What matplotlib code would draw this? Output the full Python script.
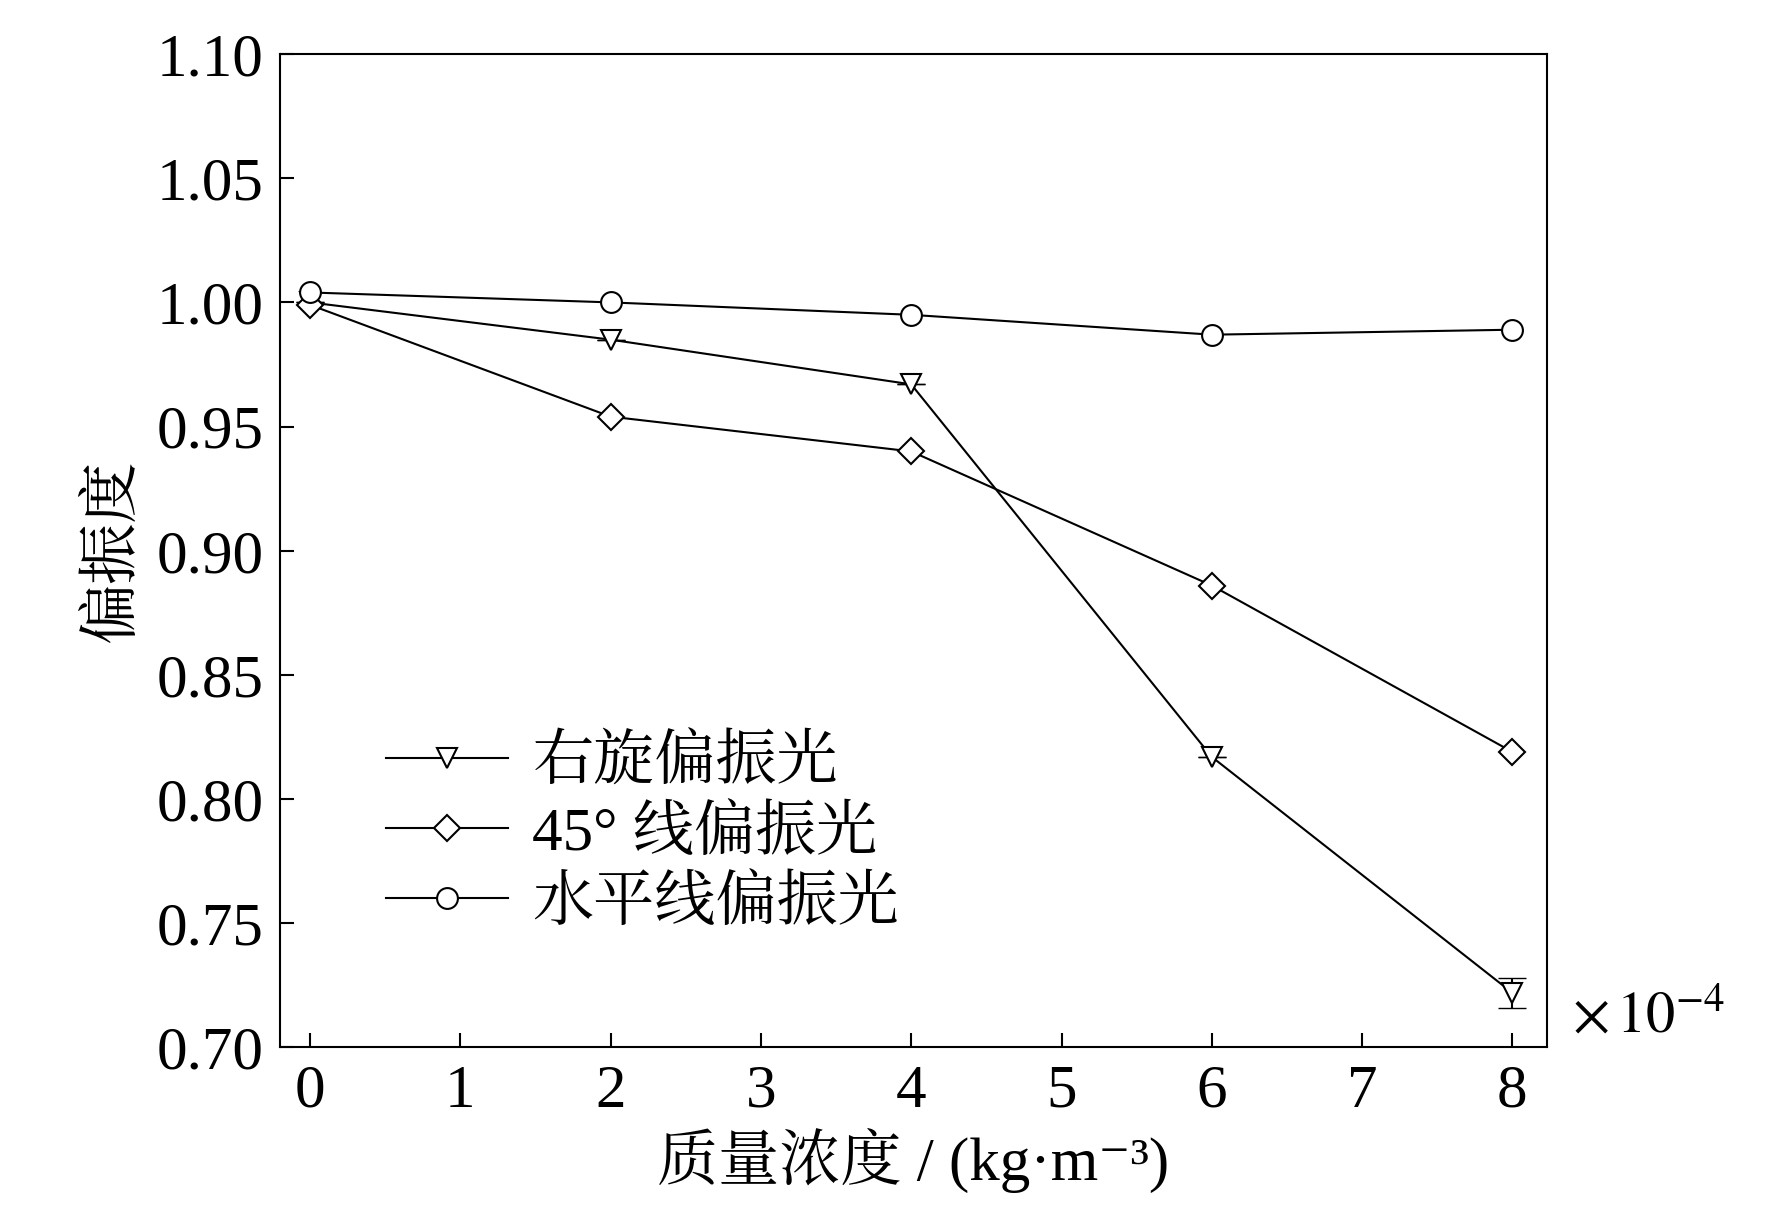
import matplotlib
matplotlib.use("Agg")
import matplotlib.pyplot as plt

x = [0, 2, 4, 6, 8]
right_circ = [1.000, 0.985, 0.967, 0.817, 0.722]
right_err = [0, 0, 0, 0, 0.006]
diag45 = [0.999, 0.954, 0.940, 0.886, 0.819]
horiz = [1.004, 1.000, 0.995, 0.987, 0.989]
labels = ["右旋偏振光", "45° 线偏振光", "水平线偏振光"]
yticks = [0.70, 0.75, 0.80, 0.85, 0.90, 0.95, 1.00, 1.05, 1.10]

fam = ["Liberation Serif", "Noto Serif CJK SC", "Noto Sans CJK SC", "DejaVu Sans"]
plt.rcParams["font.family"] = fam
plt.rcParams["mathtext.fontset"] = "stix"

fig = plt.figure(figsize=(17.72, 12.28), dpi=100)
ax = fig.add_axes([0.158, 0.147, 0.715, 0.809])
kw = dict(color="black", lw=1.5, mfc="white", mec="black", mew=1.5, ms=15)
ax.errorbar(x, right_circ, yerr=right_err, fmt="none", ecolor="black", capsize=10, elinewidth=1.5)
ax.plot(x, right_circ, marker="v", label=labels[0], **kw)
ax.plot(x, diag45, marker="D", label=labels[1], **{**kw, "ms": 13})
ax.plot(x, horiz, marker="o", label=labels[2], **kw)

ax.set_xlim(-0.2, 8.23)
ax.set_ylim(0.70, 1.10)
ax.set_xticks(range(0, 9))
ax.set_yticks(yticks)
ax.set_yticklabels([f"{v:.2f}" for v in yticks])
ax.tick_params(direction="in", length=10, width=1.5, labelsize=44, pad=12)
for s in ax.spines.values():
    s.set_linewidth(1.5)
ax.set_xlabel("质量浓度 / (kg·m⁻³)", fontsize=44, labelpad=6)
ax.set_ylabel("偏振度", fontsize=44, labelpad=10)
ax.text(1.02, 0.03, r"$\times\,10^{-4}$", transform=ax.transAxes, fontsize=42, va="center")
ax.legend(loc="lower left", bbox_to_anchor=(0.04, 0.06), frameon=False, fontsize=44,
          handlelength=2.0, labelspacing=0.2, handletextpad=0.4)
fig.savefig("out.png", dpi=100)
